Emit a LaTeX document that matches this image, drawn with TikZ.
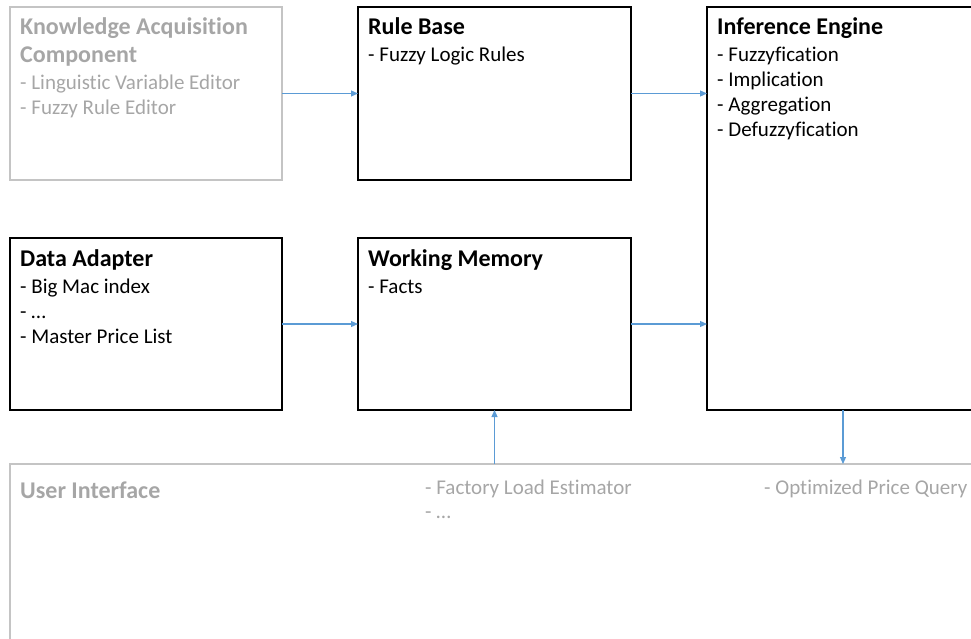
\documentclass[tikz,border=0pt]{standalone}
\usepackage{fontspec}
\setmainfont{Carlito}[Ligatures={NoCommon,NoRequired}]
\usetikzlibrary{arrows.meta}
\definecolor{arrowblue}{HTML}{5B9BD5}
\definecolor{softgray}{HTML}{A6A6A6}
\definecolor{bordergray}{HTML}{C4C4C4}
\tikzset{
  blockbox/.style={draw=black, line width=1.1pt, inner sep=0pt, outer sep=0pt, anchor=north west},
  greybox/.style={draw=bordergray, line width=1.4pt, inner sep=0pt, outer sep=0pt, anchor=north west},
  titletext/.style={anchor=base west, inner sep=0pt, font=\fontsize{24}{28}\selectfont\bfseries},
  itemtext/.style={anchor=base west, inner sep=0pt, font=\fontsize{21}{25}\selectfont},
  faint/.style={text=softgray},
  flow/.style={draw=arrowblue, line width=1.1pt, -{Triangle[length=7pt,width=6pt]}}
}
\begin{document}
\begin{tikzpicture}[x=1pt,y=-1pt]
\useasboundingbox (0,0) rectangle (971,639);
\clip (0,0) rectangle (971,639);
% boxes
\node[greybox, minimum width=272pt, minimum height=173pt] (ka) at (10,7) {};
\node[blockbox, minimum width=273pt, minimum height=173pt] (rb) at (358,7) {};
\node[blockbox, minimum width=272pt, minimum height=403pt] (ie) at (707,7) {};
\node[blockbox, minimum width=272pt, minimum height=172pt] (da) at (10,238) {};
\node[blockbox, minimum width=273pt, minimum height=172pt] (wm) at (358,238) {};
\node[greybox, minimum width=990pt, minimum height=200pt] (ui) at (10,464) {};
% Knowledge acquisition
\node[titletext, faint] (kat1) at (20,35) {Knowledge Acquisition};
\node[titletext, faint] (kat2) at (20,63) {Component};
\node[itemtext, faint] (kai1) at (20,90) {- Linguistic Variable Editor};
\node[itemtext, faint] (kai2) at (20,115) {- Fuzzy Rule Editor};
% Rule base
\node[titletext] (rbt) at (368,35) {Rule Base};
\node[itemtext] (rbi1) at (368,62) {- Fuzzy Logic Rules};
% Inference engine
\node[titletext] (iet) at (717,35) {Inference Engine};
\node[itemtext] (iei1) at (717,62) {- Fuzzyfication};
\node[itemtext] (iei2) at (717,87) {- Implication};
\node[itemtext] (iei3) at (717,112) {- Aggregation};
\node[itemtext] (iei4) at (717,137) {- Defuzzyfication};
% Data adapter
\node[titletext] (dat) at (20,266) {Data Adapter};
\node[itemtext] (dai1) at (20,293) {- Big Mac index};
\node[itemtext] (dai2) at (20,318) {- \dots};
\node[itemtext] (dai3) at (20,343) {- Master Price List};
% Working memory
\node[titletext] (wmt) at (368,266) {Working Memory};
\node[itemtext] (wmi1) at (368,293) {- Facts};
% User interface
\node[titletext, faint] (uit) at (20,498) {User Interface};
\node[itemtext, faint] (uii1) at (425,494) {- Factory Load Estimator};
\node[itemtext, faint] (uii2) at (425,518) {- \dots};
\node[itemtext, faint] (uii3) at (764,494) {- Optimized Price Query};
% connectors
\draw[flow] (ka.east) -- (rb.west);
\draw[flow] (rb.east) -- (rb.east -| ie.west);
\draw[flow] (da.east) -- (wm.west);
\draw[flow] (wm.east) -- (wm.east -| ie.west);
\draw[flow] (wm.south |- ui.north) -- (wm.south);
\draw[flow] (ie.south) -- (ie.south |- ui.north);
\end{tikzpicture}
\end{document}
